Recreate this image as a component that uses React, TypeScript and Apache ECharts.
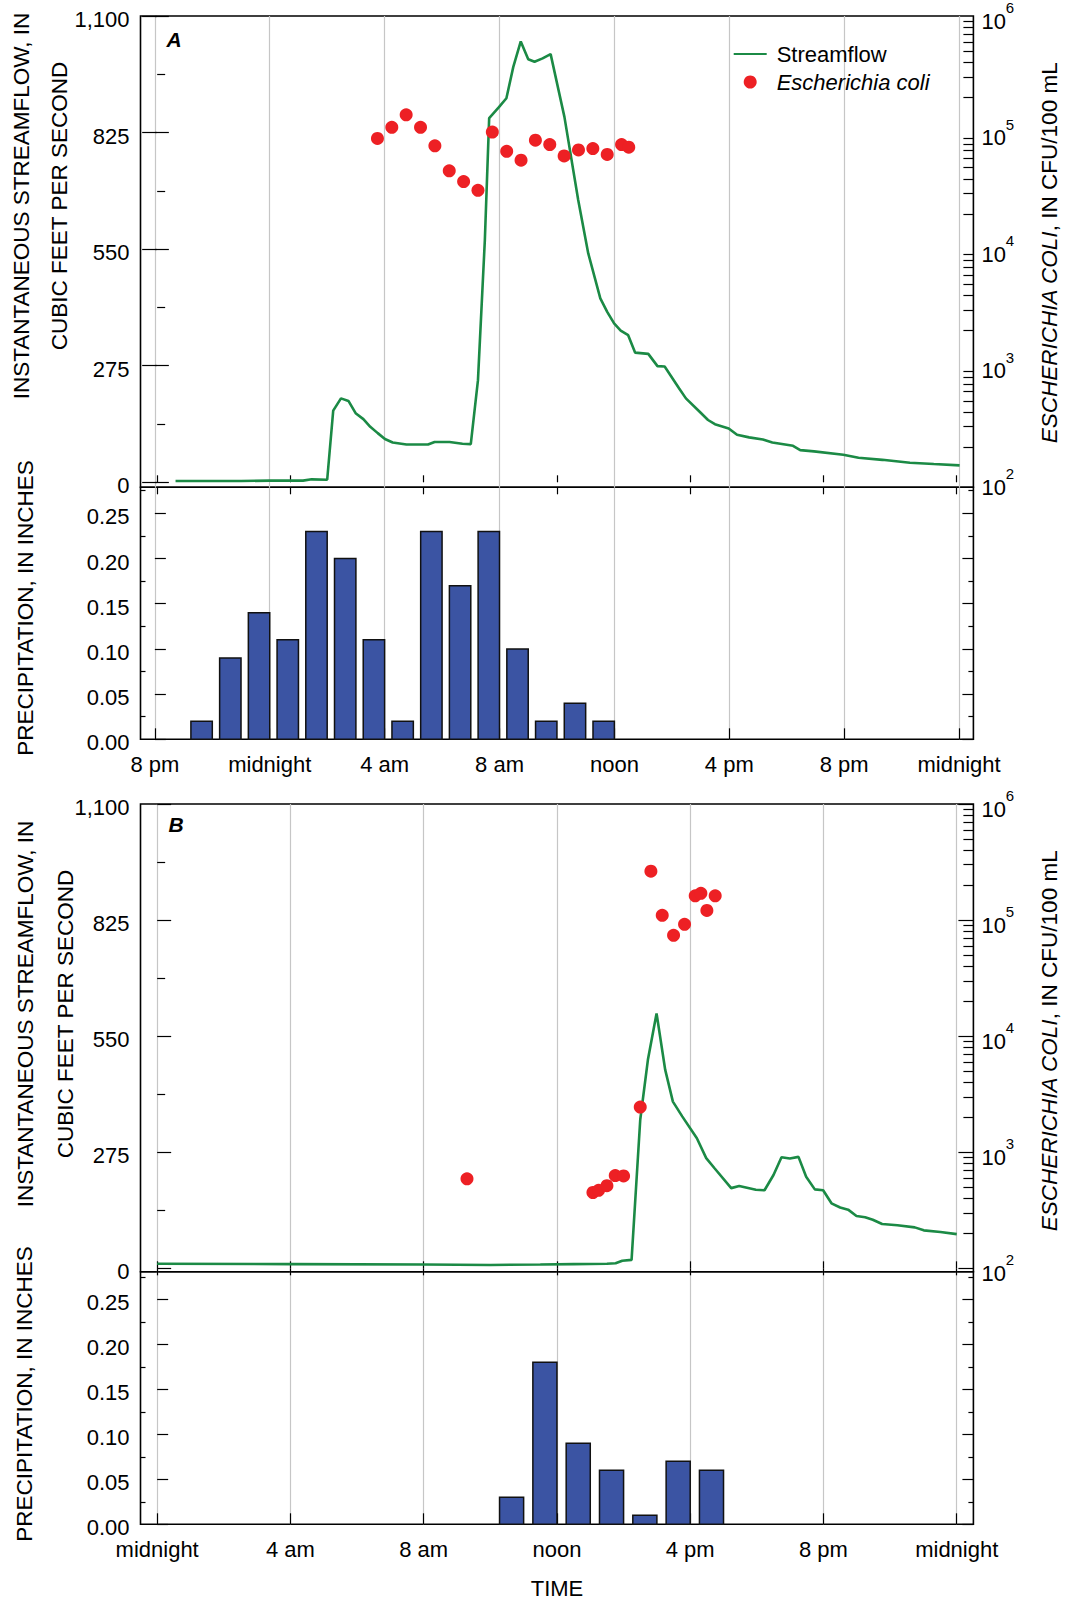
import React, { useEffect, useRef } from 'react';
import * as echarts from 'echarts';

const FONT = '"Liberation Sans", Arial, Helvetica, sans-serif';
const GREEN = '#1b8a45';
const RED = '#ed2024';
const BLUE = '#3b54a3';
const GRID_GRAY = '#c6c6c6';

// ---------- Panel A (hours after 8 pm) ----------
const flowAHours = [0.72, 2, 3, 4, 5.16, 5.46, 6.0, 6.21, 6.48, 6.74, 6.99, 7.26, 7.5, 7.76, 8.01, 8.28, 8.76, 9.51, 9.74, 10.26, 10.71, 11.0, 11.25, 11.49, 11.64, 11.98, 12.24, 12.48, 12.74, 13.0, 13.22, 13.5, 13.78, 14.26, 14.74, 15.09, 15.51, 15.75, 15.99, 16.22, 16.48, 16.72, 17.18, 17.5, 17.75, 18.25, 18.49, 18.96, 19.26, 19.5, 19.98, 20.27, 20.69, 21.17, 21.5, 22.22, 22.47, 22.95, 23.97, 24.5, 25.33, 26.29, 27.12, 28.02];
const flowACfs = [3, 3, 3, 4, 4, 7, 6, 169, 198, 192, 163, 149, 131, 116, 102, 94, 89, 89, 95, 95, 91, 90, 241, 572, 859, 885, 906, 980, 1040, 998, 992, 1000, 1010, 862, 666, 540, 434, 402, 375, 358, 347, 306, 303, 274, 273, 222, 198, 167, 147, 137, 127, 112, 106, 101, 94, 86, 76, 73, 65, 58, 53, 46, 43, 40];
const ecoliAHours = [7.75, 8.25, 8.75, 9.25, 9.75, 10.25, 10.75, 11.25, 11.75, 12.25, 12.75, 13.25, 13.75, 14.25, 14.75, 15.25, 15.75, 16.25, 16.5];
const ecoliACfu = [89000, 111000, 142000, 111000, 77000, 47000, 38000, 32000, 101000, 69000, 58000, 86000, 79000, 63000, 71000, 73000, 65000, 79000, 75000];
const precipAHourEnd = [2, 3, 4, 5, 6, 7, 8, 9, 10, 11, 12, 13, 14, 15, 16];
const precipAInches = [0.02, 0.09, 0.14, 0.11, 0.23, 0.20, 0.11, 0.02, 0.23, 0.17, 0.23, 0.10, 0.02, 0.04, 0.02];
const tickHoursA = [0, 4, 8, 12, 16, 20, 24, 28];
const tickLabelsA = ['8 pm', 'midnight', '4 am', '8 am', 'noon', '4 pm', '8 pm', 'midnight'];

// ---------- Panel B (hours after midnight) ----------
const flowBHours = [0, 4, 8, 10, 11.5, 12.5, 13.5, 13.76, 13.96, 14.24, 14.5, 14.73, 14.99, 15.25, 15.48, 15.76, 16.2, 16.48, 16.73, 17.23, 17.47, 17.97, 18.23, 18.5, 18.74, 18.99, 19.25, 19.48, 19.74, 19.99, 20.24, 20.5, 20.74, 20.99, 21.25, 21.48, 21.76, 22.22, 22.74, 23.01, 23.51, 24.0];
const flowBCfs = [11, 10, 9, 8, 9, 10, 11, 12, 18, 20, 352, 494, 604, 470, 395, 360, 308, 261, 237, 190, 195, 186, 185, 221, 263, 260, 264, 217, 187, 185, 154, 144, 139, 124, 121, 115, 105, 102, 97, 90, 86, 81];
const ecoliBHours = [9.3, 13.08, 13.25, 13.5, 13.75, 14.0, 14.5, 14.82, 15.16, 15.5, 15.83, 16.15, 16.32, 16.5, 16.75];
const ecoliBCfu = [590, 450, 470, 515, 630, 625, 2450, 264000, 110000, 74000, 92000, 162000, 170000, 121000, 162000];
const precipBHourEnd = [11, 12, 13, 14, 15, 16, 17];
const precipBInches = [0.03, 0.18, 0.09, 0.06, 0.01, 0.07, 0.06];
const tickHoursB = [0, 4, 8, 12, 16, 20, 24];
const tickLabelsB = ['midnight', '4 am', '8 am', 'noon', '4 pm', '8 pm', 'midnight'];

// ---------- Axis ticks ----------
const flowTicks = [0, 275, 550, 825, 1100];
const flowMinorTicks = [137.5, 412.5, 687.5, 962.5];
const ecoliDecades = [2, 3, 4, 5, 6]; // log10 of CFU/100 mL
const ecoliMinorTicks: number[] = [];
[2, 3, 4, 5].forEach((n) => {
  for (let k = 2; k <= 9; k++) ecoliMinorTicks.push(n + Math.log10(k));
});
const precipTicks = [0, 0.05, 0.1, 0.15, 0.2, 0.25];
const precipMinorTicks = [0.025, 0.075, 0.125, 0.175, 0.225, 0.275];

const pairs = (xs: number[], ys: number[]) => xs.map((x, i) => [x, ys[i]]);
const logPairs = (xs: number[], ys: number[]) => xs.map((x, i) => [x, Math.log10(ys[i])]);

const tickLine = { color: '#000', width: 1.2 };
const thousands = (v: number) => String(v).replace(/\B(?=(\d{3})+(?!\d))/g, ',');

function yAxisDef(gridIndex: number, min: number, max: number, position: string, ticks: number[], len: number, label?: any) {
  return {
    type: 'value', gridIndex, min, max, position,
    axisLine: { show: false },
    splitLine: { show: false },
    axisTick: { show: true, inside: true, length: len, customValues: ticks, lineStyle: tickLine },
    axisLabel: label
      ? Object.assign({ show: true, customValues: ticks, margin: 11, fontSize: 22, fontFamily: FONT, color: '#000' }, label)
      : { show: false },
  };
}

function xAxisDef(gridIndex: number, min: number, max: number, ticks: number[], o: any) {
  return {
    type: 'value', gridIndex, min, max, position: 'bottom',
    axisLine: { show: false },
    axisTick: { show: !!o.tickShow, inside: !!o.inside, length: o.len || 7, customValues: ticks, lineStyle: tickLine },
    splitLine: { show: !!o.split, lineStyle: { color: GRID_GRAY, width: 1.2 } },
    axisLabel: o.labels
      ? { show: true, customValues: ticks, margin: 14, fontSize: 22, fontFamily: FONT, color: '#000', formatter: (v: number) => o.labels[ticks.indexOf(Math.round(v))] }
      : { show: false },
  };
}

const logLabel = {
  margin: 8,
  formatter: (v: number) => `{b|10}{s|${Math.round(v)}}`,
  rich: {
    b: { fontSize: 22, fontFamily: FONT, color: '#000', lineHeight: 32, verticalAlign: 'bottom' },
    s: { fontSize: 15, fontFamily: FONT, color: '#000', lineHeight: 16, verticalAlign: 'top' },
  },
};
// labels sit a few pixels below their ticks in the reference
const shiftedRich = { v: { fontSize: 22, fontFamily: FONT, color: '#000', lineHeight: 22, padding: [7, 0, 0, 0] } };
const flowLabel = { formatter: (v: number) => `{v|${thousands(v)}}`, rich: shiftedRich };
const precipLabel = { formatter: (v: number) => `{v|${v.toFixed(2)}}`, rich: shiftedRich };

const barRender = (gapFrac: number) => (params: any, api: any) => {
  const end = api.value(0) as number;
  const val = api.value(1) as number;
  const tl = api.coord([end - 1 + gapFrac, val]);
  const br = api.coord([end, 0]);
  return {
    type: 'rect',
    shape: { x: tl[0], y: tl[1], width: br[0] - tl[0], height: br[1] - tl[1] },
    style: { fill: BLUE, stroke: '#111', lineWidth: 1.5 },
  };
};

const GL = 140.5;
const GW = 832.9;
const gridBase = { left: GL, width: GW, show: true, borderColor: '#000', borderWidth: 1.6, backgroundColor: 'transparent', containLabel: false, outerBoundsMode: 'none' };

// axis extents (streamflow 0 / 10^2 sit a few pixels above each panel's bottom edge)
const A_FLOW_MIN = -11.8;
const A_LOG_MIN = 2 - (4 * 11.8) / 1100;
const B_FLOW_MIN = -8;
const B_LOG_MIN = 2 - (4 * 8) / 1100;

function vText(x: number, y: number, text: string, extra?: any) {
  return {
    type: 'text', x, y, rotation: Math.PI / 2, silent: true,
    style: Object.assign({ text, fontSize: 22.5, fontFamily: FONT, fill: '#000', align: 'center', verticalAlign: 'middle', textAlign: 'center', textVerticalAlign: 'middle' }, extra || {}),
  };
}

const legendText = { fontSize: 22, fontFamily: FONT, color: '#000', lineHeight: 24, padding: [0, 0, 0, 5] };

const option: any = {
  animation: false,
  backgroundColor: '#fff',
  textStyle: { fontFamily: FONT },
  grid: [
    Object.assign({ top: 16, height: 471.3 }, gridBase),
    Object.assign({ top: 487.3, height: 252 }, gridBase),
    Object.assign({ top: 804, height: 467.7 }, gridBase),
    Object.assign({ top: 1271.7, height: 252.6 }, gridBase),
  ],
  xAxis: [
    xAxisDef(0, -0.5, 28.5, tickHoursA, { split: true }),
    xAxisDef(0, -0.5, 24.5, tickHoursB, { tickShow: true, inside: true, len: 7 }),
    xAxisDef(0, -0.5, 24.5, tickHoursB, { tickShow: true, inside: false, len: 7 }),
    xAxisDef(1, -0.5, 28.5, tickHoursA, { split: true, tickShow: true, inside: true, len: 11, labels: tickLabelsA }),
    xAxisDef(2, -0.5, 24.5, tickHoursB, { split: true, tickShow: true, inside: true, len: 7 }),
    xAxisDef(2, -0.5, 24.5, tickHoursB, { tickShow: true, inside: false, len: 7 }),
    xAxisDef(3, -0.5, 24.5, tickHoursB, { split: true, tickShow: true, inside: true, len: 11, labels: tickLabelsB }),
  ],
  yAxis: [
    yAxisDef(0, A_FLOW_MIN, 1100, 'left', flowTicks, 14, flowLabel),
    yAxisDef(0, A_FLOW_MIN, 1100, 'left', flowMinorTicks, 8),
    yAxisDef(0, A_LOG_MIN, 6, 'right', ecoliDecades, 15, logLabel),
    yAxisDef(0, A_LOG_MIN, 6, 'right', ecoliMinorTicks, 10),
    yAxisDef(1, 0, 0.2788, 'left', precipTicks, 11, precipLabel),
    yAxisDef(1, 0, 0.2788, 'left', precipMinorTicks, 5),
    yAxisDef(1, 0, 0.2788, 'right', precipTicks, 11),
    yAxisDef(1, 0, 0.2788, 'right', precipMinorTicks, 5),
    yAxisDef(2, B_FLOW_MIN, 1100, 'left', flowTicks, 14, flowLabel),
    yAxisDef(2, B_FLOW_MIN, 1100, 'left', flowMinorTicks, 8),
    yAxisDef(2, B_LOG_MIN, 6, 'right', ecoliDecades, 15, logLabel),
    yAxisDef(2, B_LOG_MIN, 6, 'right', ecoliMinorTicks, 10),
    yAxisDef(3, 0, 0.2807, 'left', precipTicks, 11, precipLabel),
    yAxisDef(3, 0, 0.2807, 'left', precipMinorTicks, 5),
    yAxisDef(3, 0, 0.2807, 'right', precipTicks, 11),
    yAxisDef(3, 0, 0.2807, 'right', precipMinorTicks, 5),
  ],
  legend: {
    left: 732.7, top: 42, padding: 0, orient: 'vertical', itemWidth: 33, itemHeight: 13, itemGap: 4,
    selectedMode: false,
    textStyle: legendText,
    data: [
      { name: 'Streamflow', itemStyle: { opacity: 0 } },
      { name: 'Escherichia coli', icon: 'circle', textStyle: Object.assign({ fontStyle: 'italic' }, legendText) },
    ],
  },
  series: [
    { name: 'Streamflow', type: 'line', xAxisIndex: 0, yAxisIndex: 0, data: pairs(flowAHours, flowACfs), symbol: 'none', showSymbol: false, lineStyle: { color: GREEN, width: 2.6 }, itemStyle: { color: GREEN }, z: 3, emphasis: { disabled: true } },
    { name: 'Escherichia coli', type: 'scatter', xAxisIndex: 0, yAxisIndex: 2, data: logPairs(ecoliAHours, ecoliACfu), symbol: 'circle', symbolSize: 13, itemStyle: { color: RED, opacity: 1 }, z: 4, emphasis: { disabled: true } },
    { name: 'Precipitation A', type: 'custom', xAxisIndex: 3, yAxisIndex: 4, data: pairs(precipAHourEnd, precipAInches), renderItem: barRender(0.255), encode: { x: 0, y: 1 }, z: 2 },
    { name: 'Streamflow', type: 'line', xAxisIndex: 4, yAxisIndex: 8, data: pairs(flowBHours, flowBCfs), symbol: 'none', showSymbol: false, lineStyle: { color: GREEN, width: 2.6 }, itemStyle: { color: GREEN }, z: 3, emphasis: { disabled: true } },
    { name: 'Escherichia coli', type: 'scatter', xAxisIndex: 4, yAxisIndex: 10, data: logPairs(ecoliBHours, ecoliBCfu), symbol: 'circle', symbolSize: 13, itemStyle: { color: RED, opacity: 1 }, z: 4, emphasis: { disabled: true } },
    { name: 'Precipitation B', type: 'custom', xAxisIndex: 6, yAxisIndex: 12, data: pairs(precipBHourEnd, precipBInches), renderItem: barRender(0.277), encode: { x: 0, y: 1 }, z: 2 },
  ],
  graphic: [
    vText(40.5, 206, 'INSTANTANEOUS STREAMFLOW, IN\nCUBIC FEET PER SECOND', { lineHeight: 38.5 }),
    vText(45.5, 1014, 'INSTANTANEOUS STREAMFLOW, IN\nCUBIC FEET PER SECOND', { lineHeight: 39.5 }),
    vText(25, 608, 'PRECIPITATION, IN INCHES'),
    vText(24, 1394, 'PRECIPITATION, IN INCHES'),
    vText(1049, 253, '{i|ESCHERICHIA COLI}, IN CFU/100 mL', { rich: { i: { fontStyle: 'italic', fontSize: 22.5, fontFamily: FONT, fill: '#000' } } }),
    vText(1049, 1041, '{i|ESCHERICHIA COLI}, IN CFU/100 mL', { rich: { i: { fontStyle: 'italic', fontSize: 22.5, fontFamily: FONT, fill: '#000' } } }),
    { type: 'text', x: 557, y: 1588, silent: true, style: { text: 'TIME', fontSize: 22, fontFamily: FONT, fill: '#000', align: 'center', verticalAlign: 'middle', textAlign: 'center', textVerticalAlign: 'middle' } },
    { type: 'text', x: 174, y: 39, silent: true, style: { text: 'A', fontSize: 21, fontWeight: 'bold', fontStyle: 'italic', fontFamily: FONT, fill: '#000', align: 'center', verticalAlign: 'middle', textAlign: 'center', textVerticalAlign: 'middle' } },
    { type: 'text', x: 176, y: 824, silent: true, style: { text: 'B', fontSize: 21, fontWeight: 'bold', fontStyle: 'italic', fontFamily: FONT, fill: '#000', align: 'center', verticalAlign: 'middle', textAlign: 'center', textVerticalAlign: 'middle' } },
  ],
};

export default function App() {
  const ref = useRef<HTMLDivElement>(null);
  useEffect(() => {
    document.body.style.margin = '0';
    const chart = echarts.init(ref.current as HTMLDivElement, null, { renderer: 'svg' });
    chart.setOption(option);
    return () => chart.dispose();
  }, []);
  return <div ref={ref} style={{ width: 1066, height: 1602, background: '#fff' }} />;
}
